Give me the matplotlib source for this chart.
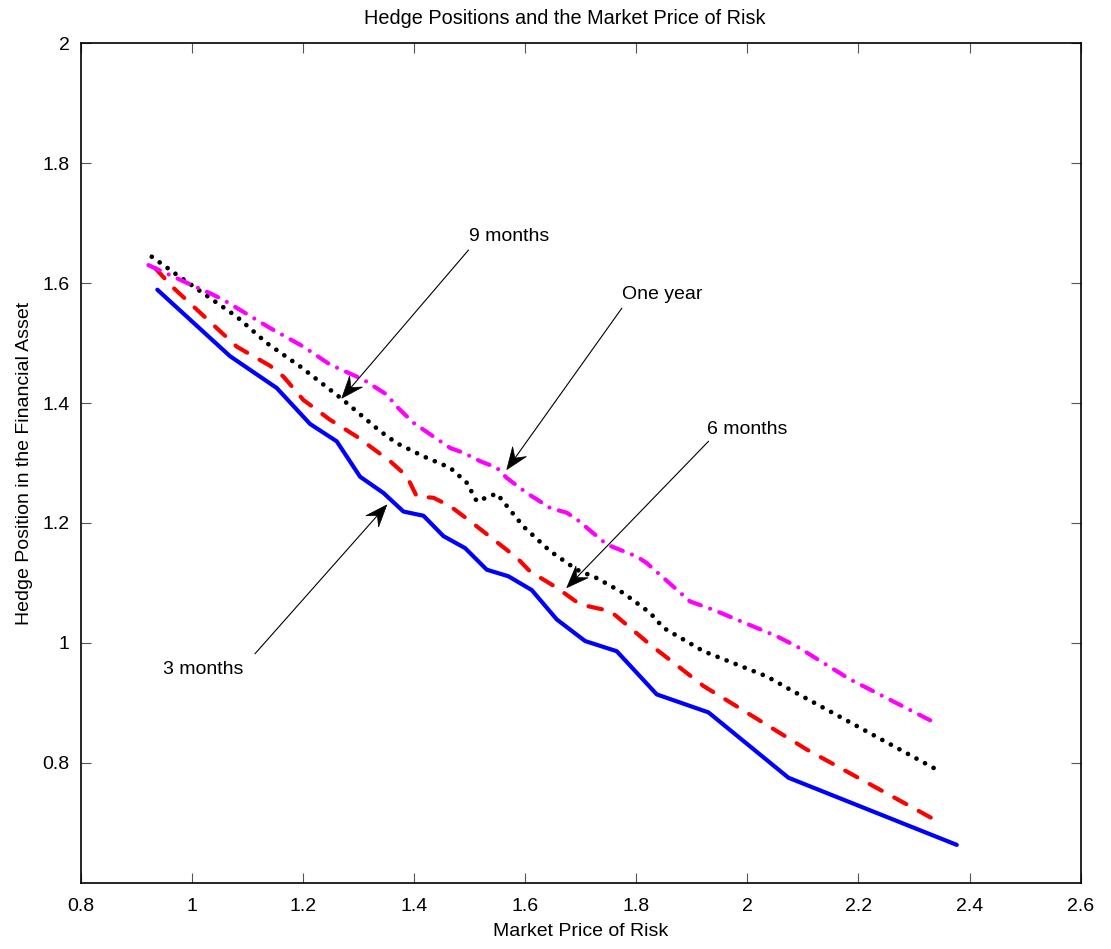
import matplotlib
matplotlib.use("Agg")
import matplotlib.pyplot as plt
import numpy as np
from matplotlib.patches import Polygon
from matplotlib.transforms import IdentityTransform

plt.rcParams['font.family'] = ['Liberation Sans', 'DejaVu Sans']

# ---- data ----
x_3m = [0.938, 1.069, 1.153, 1.213, 1.261, 1.303, 1.345, 1.381, 1.417, 1.453,
        1.492, 1.531, 1.570, 1.612, 1.657, 1.708, 1.765, 1.837, 1.930, 2.074, 2.377]
y_3m = [1.589, 1.478, 1.425, 1.365, 1.336, 1.277, 1.250, 1.219, 1.212, 1.178,
        1.158, 1.122, 1.111, 1.088, 1.039, 1.003, 0.986, 0.914, 0.884, 0.775, 0.663]

x_6m = [0.934, 0.967, 1.081, 1.141, 1.165, 1.201, 1.249, 1.297, 1.357, 1.387,
        1.405, 1.435, 1.465, 1.501, 1.585, 1.609, 1.657, 1.699, 1.753, 1.765,
        1.825, 1.867, 1.921, 1.981, 2.107, 2.347]
y_6m = [1.625, 1.592, 1.494, 1.462, 1.444, 1.405, 1.372, 1.344, 1.303, 1.278,
        1.244, 1.242, 1.228, 1.203, 1.142, 1.119, 1.092, 1.064, 1.053, 1.044,
        0.997, 0.967, 0.928, 0.894, 0.822, 0.700]

x_9m = [0.928, 0.973, 1.033, 1.081, 1.135, 1.195, 1.270, 1.339, 1.369, 1.417,
        1.465, 1.495, 1.513, 1.549, 1.597, 1.645, 1.693, 1.729, 1.777, 1.825,
        1.849, 1.921, 2.035, 2.077, 2.338]
y_9m = [1.644, 1.614, 1.575, 1.544, 1.500, 1.461, 1.407, 1.353, 1.333, 1.311,
        1.292, 1.267, 1.236, 1.249, 1.194, 1.153, 1.122, 1.108, 1.083, 1.050,
        1.025, 0.986, 0.944, 0.922, 0.790]

x_1y = [0.922, 0.985, 1.033, 1.057, 1.141, 1.201, 1.249, 1.309, 1.351, 1.369,
        1.399, 1.465, 1.489, 1.519, 1.549, 1.567, 1.603, 1.645, 1.675, 1.693,
        1.747, 1.801, 1.819, 1.897, 1.939, 2.053, 2.089, 2.185, 2.335]
y_1y = [1.630, 1.603, 1.583, 1.572, 1.525, 1.494, 1.464, 1.439, 1.414, 1.394,
        1.367, 1.325, 1.317, 1.303, 1.292, 1.275, 1.250, 1.225, 1.217, 1.206,
        1.164, 1.144, 1.133, 1.069, 1.055, 1.011, 0.994, 0.939, 0.868]

labels = ["3 months", "6 months", "9 months", "One year"]
label_pos = [(0.948, 0.956), (1.927, 1.355), (1.499, 1.677), (1.774, 1.581)]
arrow_tail = [(1.114, 0.982), (1.930, 1.336), (1.498, 1.655), (1.774, 1.558)]
arrow_tip = [(1.351, 1.230), (1.675, 1.092), (1.270, 1.408), (1.567, 1.289)]

xticks = [0.8, 1.0, 1.2, 1.4, 1.6, 1.8, 2.0, 2.2, 2.4, 2.6]
xticklabels = ["0.8", "1", "1.2", "1.4", "1.6", "1.8", "2", "2.2", "2.4", "2.6"]
yticks = [0.8, 1.0, 1.2, 1.4, 1.6, 1.8, 2.0]
yticklabels = ["0.8", "1", "1.2", "1.4", "1.6", "1.8", "2"]

# ---- figure ----
fig = plt.figure(figsize=(11.11, 9.49), dpi=100)
ax = fig.add_axes([0.0726, 0.0699, 0.9001, 0.8845])

lw = 3.0
ax.plot(x_3m, y_3m, color='#0000ff', lw=lw, solid_capstyle='round', solid_joinstyle='round')
ax.plot(x_6m, y_6m, color='#ff0000', lw=lw, linestyle=(0, (3.3, 3.4)),
        dash_capstyle='round', dash_joinstyle='round')
ax.plot(x_9m, y_9m, color='black', lw=3.4, linestyle=(0, (0.01, 2.05)),
        dash_capstyle='round')
ax.plot(x_1y, y_1y, color='#ff00ff', lw=lw, linestyle=(0, (3.0, 2.35, 0.01, 2.35)),
        dash_capstyle='round', dash_joinstyle='round')

ax.set_xlim(0.8, 2.6)
ax.set_ylim(0.6, 2.0)
ax.set_xticks(xticks)
ax.set_xticklabels(xticklabels)
ax.set_yticks(yticks)
ax.set_yticklabels(yticklabels)
ax.tick_params(direction='in', length=7, width=0.8, color='#555555',
               top=True, right=True, labelsize=14)
ax.tick_params(axis='x', pad=11)
ax.tick_params(axis='y', pad=8)
for s in ax.spines.values():
    s.set_linewidth(1.2)
    s.set_color('black')

ax.set_xlabel("Market Price of Risk", fontsize=14, labelpad=6)
ax.set_ylabel("Hedge Position in the Financial Asset", fontsize=14, labelpad=7)
fig.text(565 / 1111, 1 - 18 / 949, "Hedge Positions and the Market Price of Risk",
         fontsize=14.3, ha='center', va='center')

# annotations: text + thin arrow line with MATLAB-like concave (vback2) head
head_len, head_half_w, notch = 22.0, 8.5, 8.0
for lab, tp, tail, tip in zip(labels, label_pos, arrow_tail, arrow_tip):
    ax.text(tp[0], tp[1], lab, fontsize=14, ha='left', va='center')
    p_tail = ax.transData.transform(tail)
    p_tip = ax.transData.transform(tip)
    u = (p_tip - p_tail) / np.hypot(*(p_tip - p_tail))
    n = np.array([-u[1], u[0]])
    back = p_tip - (head_len - notch) * u
    ax.plot([p_tail[0], back[0]], [p_tail[1], back[1]], color='black', lw=0.8,
            transform=IdentityTransform())
    pts = np.array([p_tip,
                    p_tip - head_len * u + head_half_w * n,
                    back,
                    p_tip - head_len * u - head_half_w * n])
    ax.add_patch(Polygon(pts, closed=True, facecolor='black', edgecolor='black',
                         lw=0.5, transform=IdentityTransform(), zorder=5))

fig.savefig("out.png", dpi=100)
